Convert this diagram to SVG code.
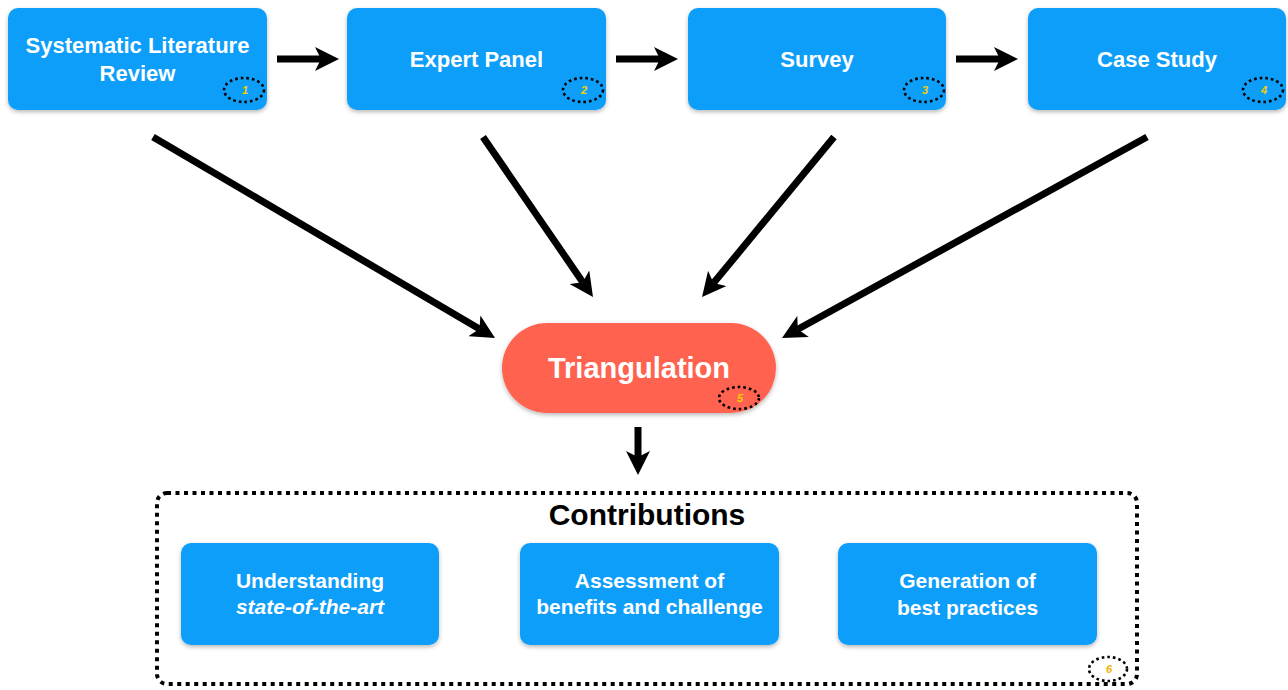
<svg xmlns="http://www.w3.org/2000/svg" width="1288" height="690" viewBox="0 0 1288 690">
  <style>
    .box { fill: #0A9EFA; filter: url(#shadow); }
    .pill { fill: #FF6450; filter: url(#shadow); }
    .lbl { font-family: "Liberation Sans", Arial, sans-serif; font-weight: bold; fill: #ffffff; text-anchor: middle; }
    .top { font-size: 22px; }
    .sub { font-size: 21px; }
    .badge { fill: none; stroke: #000; stroke-width: 2.6; stroke-dasharray: 2.6 3; }
    .num { font-family: "Liberation Sans", Arial, sans-serif; font-weight: bold; font-style: italic; font-size: 11px; fill: #F5D000; text-anchor: middle; }
    .conn { stroke: #000; stroke-width: 7; fill: none; marker-end: url(#arrow); }
  </style>
  <defs>
    <filter id="shadow" x="-10%" y="-10%" width="120%" height="130%">
      <feDropShadow dx="0" dy="2" stdDeviation="2" flood-color="#000" flood-opacity="0.28"/>
    </filter>
    <marker id="arrow" viewBox="0 0 24 24" markerWidth="24" markerHeight="24" markerUnits="userSpaceOnUse" refX="6" refY="12" orient="auto">
      <path d="M0,0 L24,12 L0,24 L6,12 Z" fill="#000"/>
    </marker>
  </defs>
  <rect width="1288" height="690" fill="#ffffff"/>

  <g id="connectors">
    <path class="conn" d="M277,59 L321,59"/>
    <path class="conn" d="M616,59 L660,59"/>
    <path class="conn" d="M956,59 L1000,59"/>
    <path class="conn" d="M153,137 L479.5,328.9"/>
    <path class="conn" d="M483,137 L582.8,282.2"/>
    <path class="conn" d="M834,137 L713.5,283.1"/>
    <path class="conn" d="M1147,137 L797.8,329.3"/>
    <path class="conn" d="M638,427 L638,457"/>
  </g>

  <g id="slr">
    <rect class="box" x="8" y="8" width="259" height="102" rx="10"/>
    <text class="lbl top" x="137.5" y="53">Systematic Literature</text>
    <text class="lbl top" x="137.5" y="81">Review</text>
    <ellipse class="badge" cx="244" cy="90" rx="20" ry="12"/>
    <text class="num" x="245" y="94">1</text>
  </g>

  <g id="expert-panel">
    <rect class="box" x="347" y="8" width="259" height="102" rx="10"/>
    <text class="lbl top" x="476.5" y="67">Expert Panel</text>
    <ellipse class="badge" cx="583" cy="90" rx="20" ry="12"/>
    <text class="num" x="584" y="94">2</text>
  </g>

  <g id="survey">
    <rect class="box" x="688" y="8" width="258" height="102" rx="10"/>
    <text class="lbl top" x="817" y="67">Survey</text>
    <ellipse class="badge" cx="924" cy="90" rx="20" ry="12"/>
    <text class="num" x="925" y="94">3</text>
  </g>

  <g id="case-study">
    <rect class="box" x="1028" y="8" width="258" height="102" rx="10"/>
    <text class="lbl top" x="1157" y="67">Case Study</text>
    <ellipse class="badge" cx="1263" cy="90" rx="20" ry="12"/>
    <text class="num" x="1264" y="94">4</text>
  </g>

  <g id="triangulation">
    <rect class="pill" x="502" y="323" width="274" height="90" rx="45"/>
    <text class="lbl" x="639" y="378" font-size="29">Triangulation</text>
    <ellipse class="badge" cx="739" cy="398" rx="20" ry="11"/>
    <text class="num" x="740" y="402">5</text>
  </g>

  <g id="contributions">
    <rect x="157" y="493" width="980" height="191" rx="10" fill="none" stroke="#000" stroke-width="4" stroke-dasharray="4 4.5"/>
    <text x="647" y="525" font-family="Liberation Sans, Arial, sans-serif" font-weight="bold" font-size="30" fill="#000" text-anchor="middle">Contributions</text>
    <ellipse class="badge" cx="1108" cy="669" rx="19" ry="12"/>
    <text class="num" x="1109" y="673" style="fill:#F2B000">6</text>
  </g>

  <g id="understanding">
    <rect class="box" x="181" y="543" width="258" height="102" rx="10"/>
    <text class="lbl sub" x="310" y="588">Understanding</text>
    <text class="lbl sub" x="310" y="614" font-style="italic">state-of-the-art</text>
  </g>

  <g id="assessment">
    <rect class="box" x="520" y="543" width="259" height="102" rx="10"/>
    <text class="lbl sub" x="649.5" y="588">Assessment of</text>
    <text class="lbl sub" x="649.5" y="614">benefits and challenge</text>
  </g>

  <g id="generation">
    <rect class="box" x="838" y="543" width="259" height="102" rx="10"/>
    <text class="lbl sub" x="967.5" y="588">Generation of</text>
    <text class="lbl sub" x="967.5" y="615">best practices</text>
  </g>
</svg>
